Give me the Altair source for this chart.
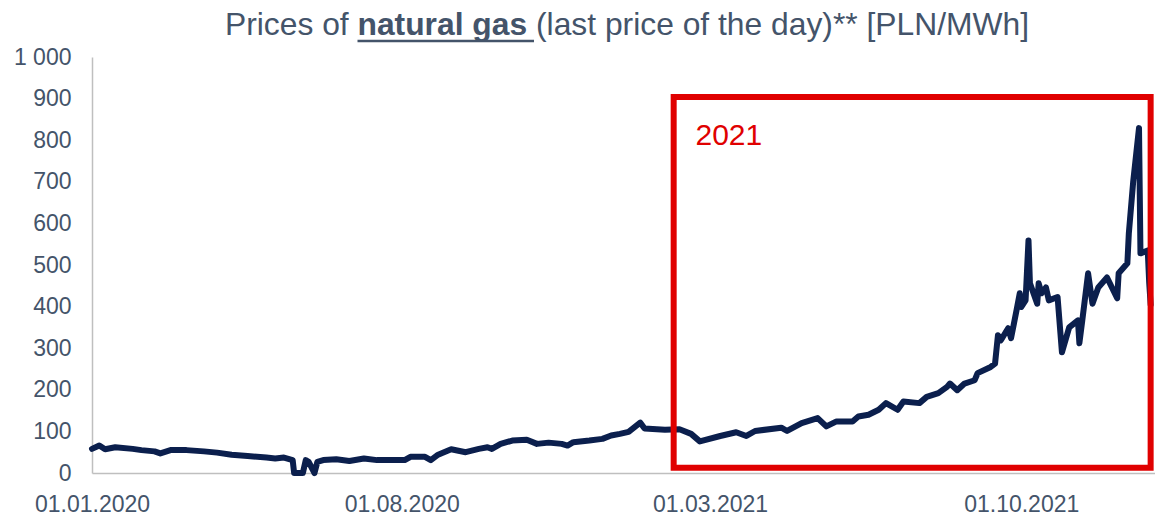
import altair as alt
import pandas as pd

# ---------------- data ----------------
dates = [
    "2020-01-01", "2020-01-06", "2020-01-10", "2020-01-17", "2020-01-29", "2020-02-04",
    "2020-02-13", "2020-02-17", "2020-02-24", "2020-03-06", "2020-03-18", "2020-03-27",
    "2020-04-06", "2020-04-17", "2020-04-30", "2020-05-06", "2020-05-12", "2020-05-18",
    "2020-05-19", "2020-05-25", "2020-05-27", "2020-05-29", "2020-06-02", "2020-06-04",
    "2020-06-08", "2020-06-17", "2020-06-26", "2020-07-06", "2020-07-15", "2020-07-24",
    "2020-08-03", "2020-08-07", "2020-08-17", "2020-08-21", "2020-08-26", "2020-09-04",
    "2020-09-14", "2020-09-23", "2020-09-29", "2020-10-02", "2020-10-08", "2020-10-16",
    "2020-10-26", "2020-11-02", "2020-11-10", "2020-11-19", "2020-11-23", "2020-11-27",
    "2020-12-08", "2020-12-17", "2020-12-23", "2020-12-29", "2021-01-04", "2021-01-12",
    "2021-01-15", "2021-01-29", "2021-02-08", "2021-02-16", "2021-02-22", "2021-03-08",
    "2021-03-19", "2021-03-26", "2021-04-01", "2021-04-19", "2021-04-23", "2021-05-03",
    "2021-05-14", "2021-05-20", "2021-05-27", "2021-06-07", "2021-06-11", "2021-06-18",
    "2021-06-25", "2021-06-30", "2021-07-08", "2021-07-12", "2021-07-23", "2021-07-28",
    "2021-08-05", "2021-08-11", "2021-08-13", "2021-08-18", "2021-08-23", "2021-08-30",
    "2021-09-01", "2021-09-10", "2021-09-13", "2021-09-15", "2021-09-17", "2021-09-22",
    "2021-09-24", "2021-09-28", "2021-09-30", "2021-10-01", "2021-10-04", "2021-10-06",
    "2021-10-07", "2021-10-12", "2021-10-13", "2021-10-15", "2021-10-18", "2021-10-20",
    "2021-10-26", "2021-10-29", "2021-11-03", "2021-11-09", "2021-11-10", "2021-11-12",
    "2021-11-16", "2021-11-19", "2021-11-23", "2021-11-29", "2021-12-06", "2021-12-07",
    "2021-12-13", "2021-12-14", "2021-12-17", "2021-12-21", "2021-12-22", "2021-12-27",
    "2021-12-28", "2021-12-29",
]
prices = [
    58, 66, 57, 62, 58, 55,
    52, 47, 55, 55, 52, 49,
    44, 41, 37, 35, 37, 31,
    0, 0, 31, 27, 0, 27,
    31, 33, 29, 35, 31, 31,
    31, 39, 39, 31, 44, 57,
    50, 58, 62, 58, 70, 78,
    80, 70, 73, 70, 66, 74,
    78, 82, 90, 94, 99, 121,
    107, 104, 105, 94, 76, 89,
    98, 89, 101, 109, 101, 120,
    132, 112, 124, 124, 136, 140,
    152, 168, 152, 172, 168, 183,
    192, 207, 215, 199, 215, 223,
    240, 255, 263, 331, 319, 348,
    324, 395, 432, 399, 415, 559,
    456, 407, 456, 432, 446, 415,
    423, 290, 350, 367, 312, 367,
    480, 407, 446, 470, 420, 480,
    504, 576, 700, 829, 528, 535,
    458, 405,
]

y_ticks = [0, 100, 200, 300, 400, 500, 600, 700, 800, 900, 1000]
x_tick_dates = ["2020-01-01", "2020-08-01", "2021-03-01", "2021-10-01"]
x_domain = ["2020-01-01", "2022-01-01"]

title_parts = ["Prices of ", "natural gas ", "(last price of the day)** [PLN/MWh]"]
box_label = ["2021"]
box_label_at = ["2021-02-19"]
box_label_value = [788]
box_from = ["2021-02-04"]
box_to = ["2021-12-29"]
box_low = [12.5]
box_high = [904]

# ---------------- styling ----------------
NAVY = "#0B1F4D"
RED = "#E00000"
SLATE = "#44546A"
AXIS_GREY = "#BFBFBF"
FONT = "Liberation Sans"
TITLE_SIZE = 31.8


def dt(s):
    y, m, d = (int(v) for v in s.split("-"))
    return alt.DateTime(year=y, month=m, date=d, utc=True)


def ms(s):
    return int(pd.Timestamp(s, tz="UTC").value // 10**6)


df = pd.DataFrame({"date": dates, "price": prices})

x_scale = alt.Scale(type="utc", domain=[ms(s) for s in x_domain], nice=False)
y_scale = alt.Scale(domain=[0, 1000], nice=False)

x_axis = alt.Axis(
    values=[dt(s) for s in x_tick_dates],
    labelExpr="utcFormat(datum.value, '%d.%m.%Y')",
    title=None,
    grid=False,
    ticks=False,
    labelFlush=False,
    labelOverlap=False,
    labelPadding=20,
)
y_axis = alt.Axis(
    values=y_ticks,
    labelExpr="replace(format(datum.value, ','), ',', ' ')",
    title=None,
    grid=False,
    ticks=False,
    labelPadding=21,
    labelOverlap=False,
)

line = alt.Chart(df).mark_line(
    color=NAVY, strokeWidth=6, strokeJoin="round", strokeCap="round"
).encode(
    x=alt.X("date:T", scale=x_scale, axis=x_axis),
    y=alt.Y("price:Q", scale=y_scale, axis=y_axis),
)

box_df = pd.DataFrame({"date": box_from, "date_end": box_to, "price": box_low, "price_end": box_high})
box = alt.Chart(box_df).mark_rect(
    fillOpacity=0, stroke=RED, strokeWidth=6
).encode(
    x=alt.X("date:T", scale=x_scale, axis=x_axis),
    x2="date_end:T",
    y=alt.Y("price:Q", scale=y_scale, axis=y_axis),
    y2="price_end:Q",
)

label_df = pd.DataFrame({"t": box_label, "date": box_label_at, "price": box_label_value})
box_text = alt.Chart(label_df).mark_text(
    color=RED, font=FONT, fontSize=30, align="left", baseline="alphabetic"
).encode(
    x=alt.X("date:T", scale=x_scale, axis=x_axis),
    y=alt.Y("price:Q", scale=y_scale, axis=y_axis),
    text="t:N",
)

# title pieces (positions relative to the plot area's top-left corner)
title_x = [133, 265.5, 444.0]
title_y = -21.6
title_layers = []
for i, part in enumerate(title_parts):
    tdf = pd.DataFrame({"t": [part]})
    title_layers.append(
        alt.Chart(tdf).mark_text(
            color=SLATE,
            font=FONT,
            fontSize=TITLE_SIZE,
            fontWeight="bold" if i == 1 else "normal",
            align="left",
            baseline="alphabetic",
        ).encode(text="t:N", x=alt.value(title_x[i]), y=alt.value(title_y))
    )

underline = alt.Chart(pd.DataFrame({"t": [title_parts[1]]})).mark_rule(
    color=SLATE, strokeWidth=2.5
).encode(x=alt.value(title_x[1]), x2=alt.value(title_x[2] - 2), y=alt.value(-16))

chart = alt.layer(line, box, box_text, underline, *title_layers).properties(
    width=1063,
    height=416,
    autosize=alt.AutoSizeParams(type="none"),
    padding={"left": 84, "top": 49, "right": 0, "bottom": 44},
).configure_axis(
    domainColor=AXIS_GREY,
    domainWidth=1.5,
    labelColor=SLATE,
    labelFont=FONT,
    labelFontSize=23,
).configure_view(strokeWidth=0)

chart.save("out.html", embed_options={"renderer": "svg", "actions": False})
